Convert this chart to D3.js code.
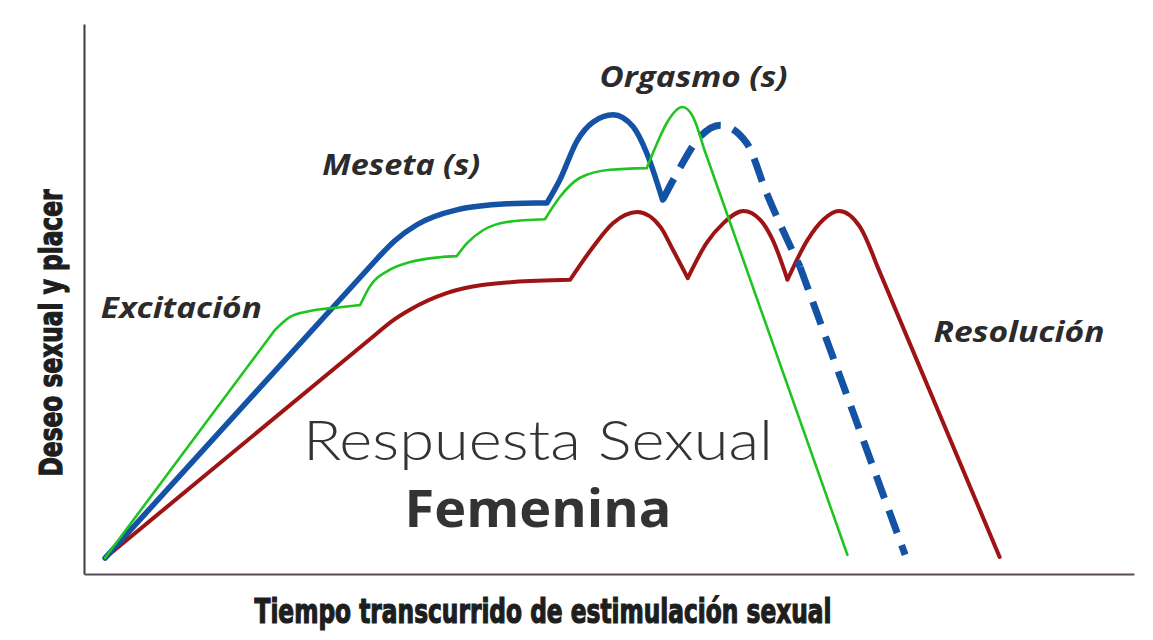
<!DOCTYPE html>
<html>
<head>
<meta charset="utf-8">
<script src="https://cdn.jsdelivr.net/npm/d3@7"></script>
<style>
  body { margin: 0; background: #fff; }
  svg { display: block; }
</style>
</head>
<body>
<svg id="chart" width="1153" height="640"></svg>
<script>
// DATA (time units 0-100 on x, desire/pleasure 0-100 on y)
// each series is split into segments so the corners stay sharp;
// two-point segments are the straight runs
var redSegs = [
  [[2.0,2.9],[27.8,43.6]],
  [[27.8,43.6],[29.5,46.2],[31.0,48.0],[34.6,51.1],[40.9,53.1],[46.3,53.5]],
  [[46.3,53.5],[48.5,59.5],[50.4,63.8],[52.7,65.8],[54.9,63.1],[56.1,58.9],[57.5,53.8]],
  [[57.5,53.8],[59.3,60.2],[60.9,63.8],[62.8,66.0],[64.4,64.4],[65.6,60.7],[67.0,53.5]],
  [[67.0,53.5],[68.9,60.7],[70.4,64.4],[71.9,66.0],[73.9,63.1],[75.5,56.2]],
  [[75.5,56.2],[87.2,3.1]]
];
var blueSegs = [
  [[2.0,2.9],[28.0,57.5]],
  [[28.0,57.5],[29.6,60.6],[31.7,63.5],[35.5,66.2],[40.3,67.3],[44.1,67.5]],
  [[44.1,67.5],[45.3,71.6],[47.0,78.9],[48.5,82.2],[50.4,83.5],[52.3,81.3],[53.6,76.5],[55.1,68.0]]
];
var blueDashed = [
  [[55.1,68.0],[56.8,74.0],[58.4,78.9],[60.6,81.6],[63.1,78.4],[65.0,69.3],[68.2,55.8]],
  [[68.2,55.8],[78.2,3.5]]
];
var greenSegs = [
  [[2.0,2.9],[18.2,44.4]],
  [[18.2,44.4],[19.6,46.7],[21.5,47.8],[24.4,48.5],[26.3,48.9]],
  [[26.3,48.9],[27.2,52.2],[29.1,55.3],[31.0,56.7],[33.9,57.6],[35.5,57.8]],
  [[35.5,57.8],[36.5,60.2],[38.0,62.5],[40.3,64.0],[43.9,64.5]],
  [[43.9,64.5],[45.3,68.5],[47.2,72.0],[50.1,73.5],[53.6,73.8]],
  [[53.6,73.8],[54.6,78.4],[55.5,82.0],[57.0,84.9],[58.0,83.1],[59.0,77.6]],
  [[59.0,77.6],[72.7,3.5]]
];

// phase labels [text, x, y]
var phases = [
  ["Excitación", 1.6, 46.5],
  ["Meseta (s)", 22.7, 72.5],
  ["Orgasmo (s)", 49.1, 88.5],
  ["Resolución", 80.9, 42.2]
];
var phaseWidths = [161, 158, 188, 171];

var yTitle = "Deseo sexual y placer";
var xTitle = "Tiempo transcurrido de estimulación sexual";
var title1 = "Respuesta Sexual";
var title2 = "Femenina";

var svg = d3.select("#chart");

var x = d3.scaleLinear().domain([0, 100]).range([84, 1134]);
var y = d3.scaleLinear().domain([0, 100]).range([574, 24]);

// axes (only the lines)
svg.append("g")
  .attr("transform", "translate(84,0)")
  .call(d3.axisLeft(y).ticks(0).tickSizeOuter(0))
  .select(".domain").attr("stroke", "#3a3a3a").attr("stroke-width", 2);
svg.append("g")
  .attr("transform", "translate(0,574)")
  .call(d3.axisBottom(x).ticks(0).tickSizeOuter(0))
  .select(".domain").attr("stroke", "#5a4a5a").attr("stroke-width", 2);

var line = d3.line()
  .x(function(d){ return x(d[0]); })
  .y(function(d){ return y(d[1]); })
  .curve(d3.curveMonotoneX);

function segPath(segs){
  return segs.map(function(s){ return line(s); }).join("");
}

// red
svg.append("path")
  .attr("d", segPath(redSegs))
  .attr("fill", "none")
  .attr("stroke", "#9e1414")
  .attr("stroke-width", 4)
  .attr("stroke-linejoin", "round")
  .attr("stroke-linecap", "round");

// blue solid
svg.append("path")
  .attr("d", segPath(blueSegs))
  .attr("fill", "none")
  .attr("stroke", "#1452a6")
  .attr("stroke-width", 5.5)
  .attr("stroke-linejoin", "round")
  .attr("stroke-linecap", "round");

// blue dashed
svg.append("path")
  .attr("d", segPath(blueDashed))
  .attr("fill", "none")
  .attr("stroke", "#1452a6")
  .attr("stroke-width", 7)
  .attr("stroke-dasharray", "24,13");

// green
svg.append("path")
  .attr("d", segPath(greenSegs))
  .attr("fill", "none")
  .attr("stroke", "#1fc41f")
  .attr("stroke-width", 2.6)
  .attr("stroke-linejoin", "round")
  .attr("stroke-linecap", "round");

// phase labels
svg.selectAll(".phase")
  .data(phases)
  .enter()
  .append("text")
    .attr("class", "phase")
    .attr("x", function(d){ return x(d[1]); })
    .attr("y", function(d){ return y(d[2]); })
    .attr("textLength", function(d, i){ return phaseWidths[i]; })
    .attr("lengthAdjust", "spacingAndGlyphs")
    .style("font-family", "'Open Sans', 'Noto Sans', sans-serif")
    .style("font-weight", "bold")
    .style("font-style", "italic")
    .style("font-size", "28px")
    .style("fill", "#2b2b2b")
    .text(function(d){ return d[0]; });

// big title
svg.append("text")
  .attr("x", 538).attr("y", 460)
  .attr("text-anchor", "middle")
  .attr("textLength", 470)
  .attr("lengthAdjust", "spacingAndGlyphs")
  .style("font-family", "Lato, 'Open Sans', sans-serif")
  .style("font-weight", 300)
  .style("font-size", "55px")
  .style("fill", "#333")
  .text(title1);
svg.append("text")
  .attr("x", 538).attr("y", 527)
  .attr("text-anchor", "middle")
  .attr("textLength", 267)
  .attr("lengthAdjust", "spacingAndGlyphs")
  .style("font-family", "'Open Sans', Lato, sans-serif")
  .style("font-weight", "bold")
  .style("font-size", "52px")
  .style("fill", "#333")
  .text(title2);

// axis titles (heavy condensed look)
svg.append("text")
  .attr("transform", "translate(62,333) rotate(-90)")
  .attr("text-anchor", "middle")
  .attr("textLength", 287)
  .attr("lengthAdjust", "spacingAndGlyphs")
  .style("font-family", "'Liberation Sans Narrow', 'DejaVu Sans Condensed', sans-serif")
  .style("font-weight", "bold")
  .style("font-size", "32px")
  .style("fill", "#1e1e1e")
  .style("stroke", "#1e1e1e")
  .style("stroke-width", 1.2)
  .text(yTitle);
svg.append("text")
  .attr("x", 543).attr("y", 623)
  .attr("text-anchor", "middle")
  .attr("textLength", 577)
  .attr("lengthAdjust", "spacingAndGlyphs")
  .style("font-family", "'Liberation Sans Narrow', 'DejaVu Sans Condensed', sans-serif")
  .style("font-weight", "bold")
  .style("font-size", "33px")
  .style("fill", "#1e1e1e")
  .style("stroke", "#1e1e1e")
  .style("stroke-width", 1.2)
  .text(xTitle);
</script>
</body>
</html>
